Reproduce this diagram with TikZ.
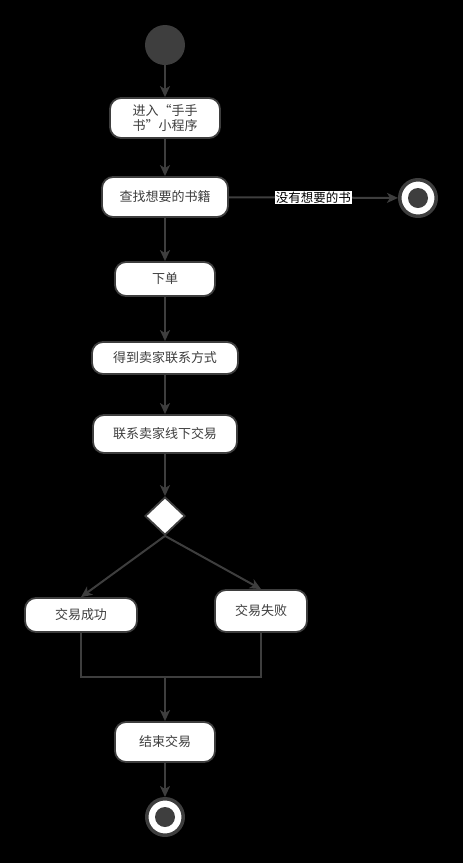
\documentclass[tikz,border=0pt]{standalone}
\usepackage{fontspec}
\newfontfamily\cjk{Noto Sans CJK SC}
\usepackage{tikz}
\usetikzlibrary{arrows.meta}
\usetikzlibrary{shapes.geometric}
\definecolor{ink}{RGB}{62,62,62}

\begin{document}
\begin{tikzpicture}[x=1pt,y=-1pt]
    \tikzset{act/.style = {shape=rectangle,rounded corners=11pt,draw=ink,line width=1.8pt,fill=white,text=ink,font=\cjk\fontsize{13}{15}\selectfont,inner sep=0pt,align=center}}
    \tikzset{startv/.style = {shape=circle,fill=ink,minimum size=40pt,inner sep=0pt}}
    \tikzset{endv/.style = {shape=circle,draw=ink,line width=3.5pt,fill=white,minimum size=36.5pt,inner sep=0pt}}
    \tikzset{choice/.style = {shape=diamond,draw=ink,line width=1.8pt,fill=white,minimum width=40pt,minimum height=38pt,inner sep=0pt}}
    \tikzset{edge/.style = {->,> = {Stealth[length=11pt,width=10pt,inset=3pt]},draw=ink,line width=2pt}}
    \tikzset{line/.style = {-,draw=ink,line width=2.5pt}}

    \fill[black] (0,0) rectangle (463,863);

    % vertices

    \node[startv] (s) at (165,45) {};

    \node[act,minimum width=110pt,minimum height=40pt] (a) at (165,118) {进入“手手\\书”小程序};
    \node[act,minimum width=126pt,minimum height=40pt] (b) at (165,197) {查找想要的书籍};
    \node[endv] (e1) at (418,198) {};
    \fill[ink] (e1) circle (10pt);

    \node[act,minimum width=100pt,minimum height=34pt] (c) at (165,279) {下单};
    \node[act,minimum width=146pt,minimum height=32pt] (d) at (165,358) {得到卖家联系方式};
    \node[act,minimum width=144pt,minimum height=38pt] (f) at (165,434) {联系卖家线下交易};
    \node[choice] (g) at (165,516) {};

    \node[act,minimum width=112pt,minimum height=34pt] (ok) at (81,615) {交易成功};
    \node[act,minimum width=92pt,minimum height=42pt] (no) at (261,611) {交易失败};
    \coordinate (m) at (165,677);

    \node[act,minimum width=100pt,minimum height=40pt] (h) at (165,742) {结束交易};
    \node[endv] (e2) at (165,817) {};
    \fill[ink] (e2) circle (10pt);

    % edges
    \draw[edge] (s) to (a);
    \draw[edge] (a) to (b);
    \draw[edge] (b) to node[fill=white,text=black,inner sep=1pt,font=\cjk\fontsize{12.5}{15}\selectfont] {没有想要的书} (e1);
    \draw[edge] (b) to (c);
    \draw[edge] (c) to (d);
    \draw[edge] (d) to (f);
    \draw[edge] (f) to (g);
    \draw[edge] (g.south) to (ok.north);
    \draw[edge] (g.south) to (no.north);
    \draw[line] (ok.south) |- (m);
    \draw[line] (no.south) |- (m);
    \draw[edge] (m) to (h);
    \draw[edge] (h) to (e2);
\end{tikzpicture}
\end{document}
